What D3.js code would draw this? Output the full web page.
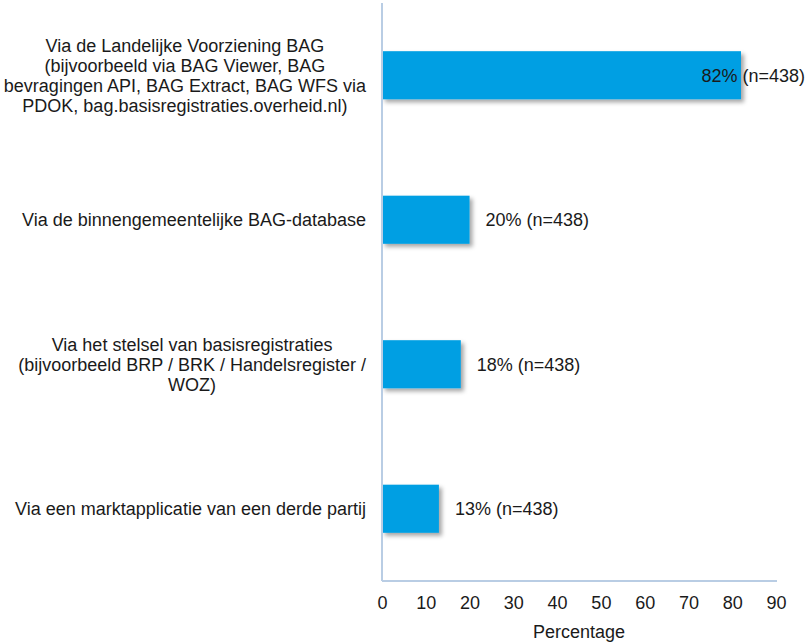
<!DOCTYPE html>
<html>
<head>
<meta charset="utf-8">
<script src="https://cdn.jsdelivr.net/npm/d3@7"></script>
<style>
  html, body { margin: 0; padding: 0; background: #fff; }
  svg { display: block; font-family: "Liberation Sans", Arial, sans-serif; }
</style>
</head>
<body>
<svg id="chart" width="807" height="642"></svg>
<script>
const categories = [
  "Via de Landelijke Voorziening BAG\n(bijvoorbeeld via BAG Viewer, BAG\nbevragingen API, BAG Extract, BAG WFS via\nPDOK, bag.basisregistraties.overheid.nl)",
  "Via de binnengemeentelijke BAG-database",
  "Via het stelsel van basisregistraties\n(bijvoorbeeld BRP / BRK / Handelsregister /\nWOZ)",
  "Via een marktapplicatie van een derde partij"
];
const values = [82, 20, 18, 13];
const nValues = [438, 438, 438, 438];
const xTicks = [0, 10, 20, 30, 40, 50, 60, 70, 80, 90];
const xTitle = "Percentage";

(function () {
const W = 807, H = 642;
const mLeft = 382, mRight = 776, mTop = 3, mBottom = 581;
const fontSize = 18;
const textColor = "#1a1a1a";
const axisColor = "#b9cde4";

const svg = d3.select("#chart");

const defs = svg.append("defs");
const f = defs.append("filter").attr("id", "shadow")
  .attr("x", "-10%").attr("y", "-20%").attr("width", "130%").attr("height", "150%");
f.append("feDropShadow").attr("dx", 3).attr("dy", 3).attr("stdDeviation", 2.2)
  .attr("flood-color", "#000").attr("flood-opacity", 0.35);

const x = d3.scaleLinear().domain([0, 90]).range([mLeft, mRight]);
const y = d3.scaleBand().domain(categories).range([mTop, mBottom])
  .paddingInner(0.667).paddingOuter(0.3335);

// bars
svg.append("g").selectAll("rect").data(values).join("rect")
  .attr("x", x(0))
  .attr("y", (d, i) => y(categories[i]))
  .attr("width", d => x(d) - x(0))
  .attr("height", y.bandwidth())
  .attr("fill", "#009FE3")
  .attr("filter", "url(#shadow)");

// axes lines
svg.append("line").attr("x1", mLeft).attr("x2", mLeft).attr("y1", mTop).attr("y2", mBottom)
  .attr("stroke", axisColor).attr("stroke-width", 2);
svg.append("line").attr("x1", mLeft).attr("x2", mRight + 1).attr("y1", mBottom).attr("y2", mBottom)
  .attr("stroke", axisColor).attr("stroke-width", 2);

// x axis tick labels
const xAxis = d3.axisBottom(x).tickValues(xTicks).tickSize(0).tickPadding(0).tickFormat(d3.format("d"));
const gx = svg.append("g").attr("transform", `translate(0,${mBottom})`).call(xAxis);
gx.select(".domain").remove();
gx.selectAll("text").attr("y", 22).attr("dy", "0.35em")
  .attr("font-size", fontSize).attr("fill", textColor)
  .attr("font-family", "Liberation Sans, Arial, sans-serif");

svg.append("text").attr("x", (mLeft + mRight) / 2).attr("y", 632).attr("dy", "0.35em")
  .attr("text-anchor", "middle").attr("font-size", fontSize).attr("fill", textColor)
  .text(xTitle);

// category labels
const lineH = 20;
const labelRight = 366;
categories.forEach((c, i) => {
  const lines = c.split("\n");
  const cy = y(c) + y.bandwidth() / 2;
  const g = svg.append("g");
  const texts = lines.map((ln, j) => g.append("text")
    .attr("y", cy + (j - (lines.length - 1) / 2) * lineH)
    .attr("dy", "0.35em")
    .attr("font-size", fontSize).attr("fill", textColor)
    .attr("text-anchor", "middle")
    .text(ln));
  const maxW = d3.max(texts, t => t.node().getComputedTextLength());
  texts.forEach(t => t.attr("x", labelRight - maxW / 2));
});

// value labels
values.forEach((v, i) => {
  const cy = y(categories[i]) + y.bandwidth() / 2;
  const t = svg.append("text")
    .attr("y", cy).attr("dy", "0.35em")
    .attr("font-size", fontSize).attr("fill", textColor)
    .text(`${v}% (n=${nValues[i]})`);
  const w = t.node().getComputedTextLength();
  let tx = x(v) + 16;
  if (tx + w > W - 2) tx = W - 2 - w;
  t.attr("x", tx);
});
})();
</script>
</body>
</html>
